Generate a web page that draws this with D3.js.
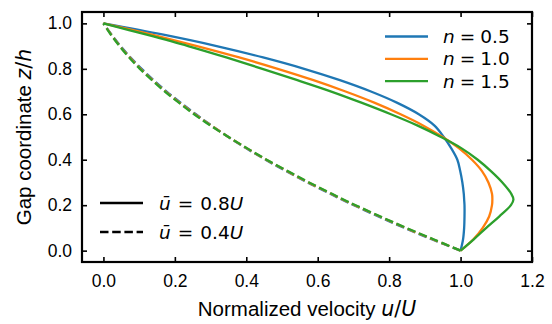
<!DOCTYPE html>
<html>
<head>
<meta charset="utf-8">
<script src="https://cdn.jsdelivr.net/npm/d3@7"></script>
<style>
  body { margin: 0; background: #fff; }
  text { font-family: "Liberation Sans", Arial, sans-serif; fill: #000; }
  .math { font-family: "DejaVu Sans", sans-serif; }
</style>
</head>
<body>
<svg id="chart" width="552" height="324"></svg>
<script>
// gap coordinate z/h, shared by every profile
const zGrid = [0, 0.05, 0.1, 0.15, 0.2, 0.225, 0.25, 0.3, 0.35, 0.4, 0.45, 0.5,
               0.55, 0.6, 0.65, 0.7, 0.75, 0.8, 0.85, 0.9, 0.95, 1.0];

// u/U for mean velocity 0.8U (solid)
const uSolid05 = [1.0, 1.007, 1.010, 1.011, 1.011, 1.010, 1.009, 1.005, 0.999, 0.991, 0.974, 0.953,
                  0.927, 0.883, 0.823, 0.749, 0.662, 0.562, 0.447, 0.317, 0.168, 0];
const uSolid10 = [1.0, 1.036, 1.062, 1.080, 1.088, 1.089, 1.088, 1.078, 1.060, 1.032, 0.996, 0.950,
                  0.896, 0.832, 0.760, 0.678, 0.588, 0.488, 0.380, 0.262, 0.136, 0];
const uSolid15 = [1.0, 1.037, 1.072, 1.108, 1.141, 1.148, 1.142, 1.117, 1.085, 1.048, 1.003, 0.945,
                  0.880, 0.805, 0.724, 0.638, 0.543, 0.445, 0.344, 0.237, 0.121, 0];

// u/U for mean velocity 0.4U (dashed)
const uDash05 = [1.0, 0.919, 0.843, 0.770, 0.701, 0.667, 0.635, 0.571, 0.511, 0.454, 0.400, 0.350,
                 0.303, 0.259, 0.217, 0.177, 0.141, 0.107, 0.076, 0.048, 0.023, 0];
const uDash10 = [1.0, 0.922, 0.846, 0.774, 0.704, 0.670, 0.638, 0.574, 0.514, 0.456, 0.402, 0.350,
                 0.302, 0.256, 0.214, 0.174, 0.138, 0.104, 0.074, 0.046, 0.022, 0];
const uDash15 = [1.0, 0.924, 0.848, 0.776, 0.706, 0.672, 0.640, 0.576, 0.516, 0.457, 0.403, 0.350,
                 0.300, 0.254, 0.212, 0.172, 0.136, 0.102, 0.072, 0.045, 0.021, 0];

const nLabels = ['0.5', '1.0', '1.5'];
const meanLabels = ['0.8', '0.4'];
const xTicks = [0, 0.2, 0.4, 0.6, 0.8, 1.0, 1.2];
const yTicks = [0, 0.2, 0.4, 0.6, 0.8, 1.0];

const colors = ['#1f77b4', '#ff7f0e', '#2ca02c'];

const svg = d3.select('#chart');
const mLeft = 82, mRight = 532, mTop = 12, mBottom = 262;

const x = d3.scaleLinear().domain([-0.06, 1.2]).range([mLeft, mRight]);
const y = d3.scaleLinear().domain([-0.05, 1.05]).range([mBottom, mTop]);

const line = d3.line()
    .x(d => x(d[0]))
    .y(d => y(d[1]))
    .curve(d3.curveCatmullRom.alpha(0.5));

const series = [
    [uSolid05, uDash05],
    [uSolid10, uDash10],
    [uSolid15, uDash15]
];

const plot = svg.append('g');
series.forEach(([solid, dashed], i) => {
    plot.append('path')
        .datum(zGrid.map((z, k) => [solid[k], z]))
        .attr('fill', 'none')
        .attr('stroke', colors[i])
        .attr('stroke-width', 2.3)
        .attr('stroke-linejoin', 'round')
        .attr('d', line);
    plot.append('path')
        .datum(zGrid.map((z, k) => [dashed[k], z]))
        .attr('fill', 'none')
        .attr('stroke', colors[i])
        .attr('stroke-width', 2.3)
        .attr('stroke-dasharray', '8.5,3.7')
        .attr('d', line);
});

// axes, ticks pointing inward on all four sides
const fmt = d3.format('.1f');
const styleAxis = g => {
    g.select('.domain').remove();
    g.selectAll('.tick line').attr('stroke', '#000').attr('stroke-width', 1.6);
    g.selectAll('.tick text').style('font-size', '17.5px')
        .style('font-family', '"Liberation Sans", Arial, sans-serif').attr('fill', '#000');
};

svg.append('g').attr('transform', `translate(0,${mBottom})`)
    .call(d3.axisBottom(x).tickValues(xTicks).tickFormat(fmt).tickSize(-5).tickPadding(12.5))
    .call(styleAxis);
svg.append('g').attr('transform', `translate(0,${mTop})`)
    .call(d3.axisTop(x).tickValues(xTicks).tickFormat('').tickSize(-5))
    .call(styleAxis);
svg.append('g').attr('transform', `translate(${mLeft},0)`)
    .call(d3.axisLeft(y).tickValues(yTicks).tickFormat(fmt).tickSize(-5).tickPadding(10))
    .call(styleAxis);
svg.append('g').attr('transform', `translate(${mRight},0)`)
    .call(d3.axisRight(y).tickValues(yTicks).tickFormat('').tickSize(-5))
    .call(styleAxis);

svg.append('rect')
    .attr('x', mLeft).attr('y', mTop)
    .attr('width', mRight - mLeft).attr('height', mBottom - mTop)
    .attr('fill', 'none').attr('stroke', '#000').attr('stroke-width', 2.2);

// axis titles
const xTitle = svg.append('text')
    .attr('x', (mLeft + mRight) / 2).attr('y', 316)
    .attr('text-anchor', 'middle').style('font-size', '20.5px');
xTitle.append('tspan').text('Normalized velocity ');
xTitle.append('tspan').attr('class', 'math').style('font-style', 'italic').text('u');
xTitle.append('tspan').attr('class', 'math').text('/');
xTitle.append('tspan').attr('class', 'math').style('font-style', 'italic').text('U');

const yTitle = svg.append('text')
    .attr('transform', `translate(31,${(mTop + mBottom) / 2}) rotate(-90)`)
    .attr('text-anchor', 'middle').style('font-size', '20.5px');
yTitle.append('tspan').text('Gap coordinate ');
yTitle.append('tspan').attr('class', 'math').style('font-style', 'italic').text('z');
yTitle.append('tspan').attr('class', 'math').text('/');
yTitle.append('tspan').attr('class', 'math').style('font-style', 'italic').text('h');

// legend for power-law index (colors)
const legN = svg.append('g');
nLabels.forEach((lab, i) => {
    const ly = 36.5 + i * 22.3;
    legN.append('line')
        .attr('x1', 385).attr('x2', 428).attr('y1', ly).attr('y2', ly)
        .attr('stroke', colors[i]).attr('stroke-width', 2.3);
    const t = legN.append('text').attr('class', 'math')
        .attr('x', 443).attr('y', ly + 6.6).style('font-size', '18.5px');
    t.append('tspan').style('font-style', 'italic').text('n');
    t.append('tspan').attr('dx', 5).text('=');
    t.append('tspan').attr('dx', 5).text(lab);
});

// legend for mean velocity (line styles)
const legU = svg.append('g');
meanLabels.forEach((lab, i) => {
    const ly = 203 + i * 29;
    legU.append('line')
        .attr('x1', 100).attr('x2', 143).attr('y1', ly).attr('y2', ly)
        .attr('stroke', '#000').attr('stroke-width', 2.3)
        .attr('stroke-dasharray', i === 1 ? '8.5,3.7' : null);
    const t = legU.append('text').attr('class', 'math')
        .attr('x', 159).attr('y', ly + 6.6).style('font-size', '18.5px');
    t.append('tspan').style('font-style', 'italic').text('ū');
    t.append('tspan').attr('dx', 7).text('=');
    t.append('tspan').attr('dx', 7).text(lab);
    t.append('tspan').style('font-style', 'italic').text('U');
});
</script>
</body>
</html>
